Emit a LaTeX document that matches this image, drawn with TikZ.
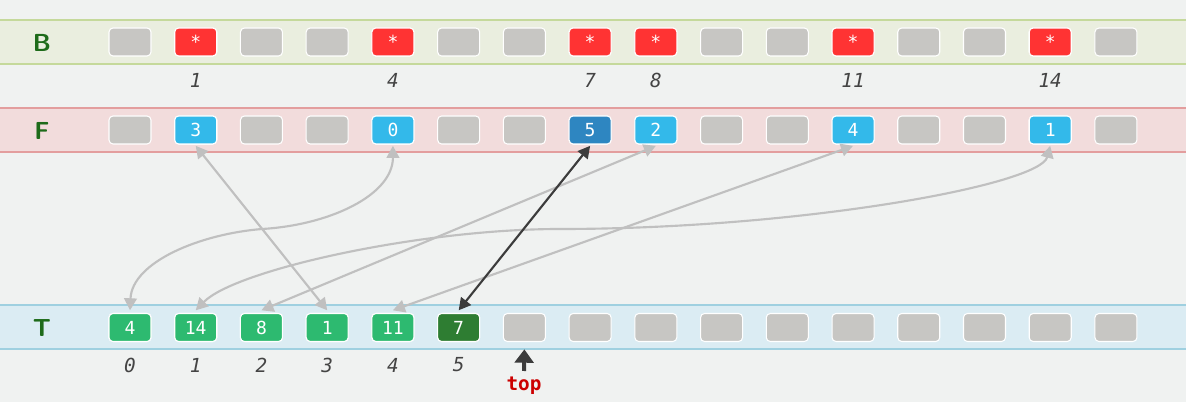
\documentclass[tikz,border=0pt]{standalone}
\usepackage{fontspec}
\setmainfont{DejaVu Sans}
\setmonofont{DejaVu Sans Mono}
\usetikzlibrary{arrows.meta}
\definecolor{bg}{HTML}{F0F2F1}
\definecolor{bandBfill}{HTML}{EAEEDF}
\definecolor{bandBline}{HTML}{C5D99B}
\definecolor{bandFfill}{HTML}{F2DCDC}
\definecolor{bandFline}{HTML}{E39E9E}
\definecolor{bandTfill}{HTML}{DBECF3}
\definecolor{bandTline}{HTML}{9FD0E0}
\definecolor{cellgray}{HTML}{C7C6C3}
\definecolor{cellred}{HTML}{FF3333}
\definecolor{cellblue}{HTML}{33B9EA}
\definecolor{celldblue}{HTML}{2E86C1}
\definecolor{cellgreen}{HTML}{2DBA70}
\definecolor{celldgreen}{HTML}{2E7D32}
\definecolor{labgreen}{HTML}{1E6B1A}
\definecolor{arrgray}{HTML}{C0C0C0}
\definecolor{arrdark}{HTML}{3C3C3C}
\definecolor{idxtext}{HTML}{444444}
\definecolor{topred}{HTML}{CC0000}
\tikzset{
  cell/.style={draw=white, line width=0.8pt, rounded corners=3pt, minimum width=31.5pt, minimum height=21pt, inner sep=0pt, text=white, font=\fontsize{13.5}{15}\selectfont\ttfamily, fill=cellgray},
  rowlabel/.style={text=labgreen, font=\fontsize{18.5}{20}\selectfont\bfseries\sffamily},
  idx/.style={text=idxtext, font=\fontsize{14.5}{16}\selectfont\ttfamily\itshape},
  link/.style={draw=arrgray, line width=1.6pt, {Triangle[length=9pt,width=9.5pt]}-{Triangle[length=9pt,width=9.5pt]}},
  darklink/.style={link, draw=arrdark},
}
\begin{document}
\begin{tikzpicture}[x=0.75pt,y=-0.75pt]
\useasboundingbox (0,0) rectangle (1186,402);
\fill[bg] (0,0) rectangle (1186,402);
% bands
\filldraw[fill=bandBfill, draw=bandBline, line width=1.5pt] (-10,20) rectangle (1196,64);
\filldraw[fill=bandFfill, draw=bandFline, line width=1.5pt] (-10,108) rectangle (1196,152);
\filldraw[fill=bandTfill, draw=bandTline, line width=1.5pt] (-10,305) rectangle (1196,349);
% row labels
\node[rowlabel] (lB) at (42,43) {B};
\node[rowlabel] (lF) at (42,131) {F};
\node[rowlabel] (lT) at (42,328) {T};
% cells
\foreach \i in {0,...,15}{
  \node[cell] (b\i) at ({130+65.73*\i},42) {};
  \node[cell] (f\i) at ({130+65.73*\i},130) {};
  \node[cell] (t\i) at ({130+65.73*\i},327.5) {};
}
% B marks
\foreach \i in {1,4,7,8,11,14}{
  \node[cell, fill=cellred] at (b\i) {*};
  \node[idx] (bi\i) at ({130+65.73*\i},80) {\i};
}
% F values
\foreach \i/\v in {1/3,4/0,8/2,11/4,14/1}{
  \node[cell, fill=cellblue] at (f\i) {\v};
}
\node[cell, fill=celldblue] at (f7) {5};
% T values
\foreach \i/\v in {0/4,1/14,2/8,3/1,4/11}{
  \node[cell, fill=cellgreen] at (t\i) {\v};
  \node[idx] (ti\i) at ({130+65.73*\i},365) {\i};
}
\node[cell, fill=celldgreen] at (t5) {7};
\node[idx] (ti5) at ({130+65.73*5},365) {5};
% links
\draw[link] ([yshift=-1pt]f1.south) -- ([yshift=2pt]t3.north);
\draw[link] ([yshift=-1pt]f8.south) -- ([yshift=2pt]t2.north);
\draw[link] ([yshift=-1pt]f11.south) -- ([yshift=2pt]t4.north);
\draw[link] ([yshift=-1pt]f4.south) .. controls (393,195) and (330,225) .. (262,229)
            .. controls (200,234) and (132,262) .. ([yshift=2pt]t0.north);
\draw[link] ([yshift=-1pt]f14.south) .. controls (1040,185) and (800,229) .. (560,229)
            .. controls (420,229) and (235,270) .. ([yshift=2pt]t1.north);
\draw[darklink] ([yshift=-1pt]f7.south) -- ([yshift=2pt]t5.north);
% top pointer
\node[font=\fontsize{14.5}{16}\selectfont\ttfamily\bfseries, text=topred] (top) at (524,386) {top};
\coordinate (topstart) at (524,371);
\draw[draw=arrdark, line width=3pt, -{Triangle[length=10pt,width=14pt]}] (topstart) -- ([yshift=-5.5pt]t6.south);
\end{tikzpicture}
\end{document}
